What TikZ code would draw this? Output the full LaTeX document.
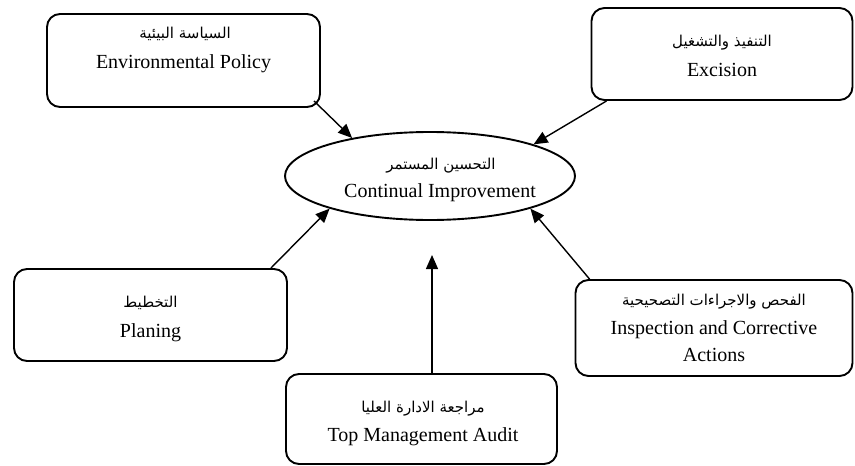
\documentclass[tikz,border=0pt]{standalone}
\usepackage{fontspec}
\setmainfont{Liberation Serif}
\newfontfamily\arabicfont[Script=Arabic]{DejaVu Sans}
\TeXXeTstate=1
\usetikzlibrary{arrows.meta,calc,shapes.geometric}

\tikzset{
  stagebox/.style={draw, line width=1.9pt, rounded corners=13pt, inner sep=0pt},
  centreoval/.style={draw, ellipse, line width=1.9pt, inner sep=0pt,
                     minimum width=290pt, minimum height=88pt},
  entext/.style={font=\fontsize{20}{22}\selectfont, inner sep=0pt, anchor=center},
  artext/.style={font=\arabicfont\fontsize{15}{17}\selectfont, inner sep=0pt, anchor=center},
  flow/.style={line width=1.4pt, -{Triangle[length=14pt,width=12pt]}}
}

\begin{document}
\begin{tikzpicture}[x=1pt,y=-1pt]
\useasboundingbox (0,0) rectangle (855,466);

% stage boxes
\node[stagebox, minimum width=273pt, minimum height=93pt] (ep) at (183.5,60.5) {};
\node[stagebox, minimum width=261pt, minimum height=92pt] (ex) at (722,54) {};
\node[stagebox, minimum width=273pt, minimum height=92pt] (pl) at (150.5,315) {};
\node[stagebox, minimum width=277pt, minimum height=96pt] (in) at (714,328) {};
\node[stagebox, minimum width=271pt, minimum height=90pt] (tm) at (421.5,419) {};

% central goal
\node[centreoval] (ci) at (430,176) {};

% labels
\node[artext] (epA) at (185,34) {\beginR السياسة البيئية\endR};
\node[entext] (epE) at (183.5,64) {Environmental Policy};

\node[artext] (exA) at (722,43) {\beginR التنفيذ والتشغيل\endR};
\node[entext] (exE) at (722,70) {Excision};

\node[artext] (ciA) at (441,166) {\beginR التحسين المستمر\endR};
\node[entext] (ciE) at (440,193) {Continual Improvement};

\node[artext] (plA) at (150.5,303) {\beginR التخطيط\endR};
\node[entext] (plE) at (150.5,333) {Planing};

\node[artext] (inA) at (714,302) {\beginR الفحص والاجراءات التصحيحية\endR};
\node[entext] (inE) at (714,330) {Inspection and Corrective};
\node[entext] (inE2) at (714,355) {Actions};

\node[artext] (tmA) at (423,409) {\beginR مراجعة الادارة العليا\endR};
\node[entext] (tmE) at (423,437) {Top Management Audit};

% connectors into the goal
\coordinate (tmtip) at (432,255);
\draw[flow] ($(ep.south east)+(-7,-7)$) -- (ci.154);
\draw[flow] ($(ex.south west)+(16,0)$) -- (ci.17);
\draw[flow] ($(pl.north east)+(-17,0)$) -- (ci.198);
\draw[flow] ($(in.north west)+(15,0)$) -- (ci.-18);
\draw[flow] (tm.north -| tmtip) -- (tmtip);
\end{tikzpicture}
\end{document}
